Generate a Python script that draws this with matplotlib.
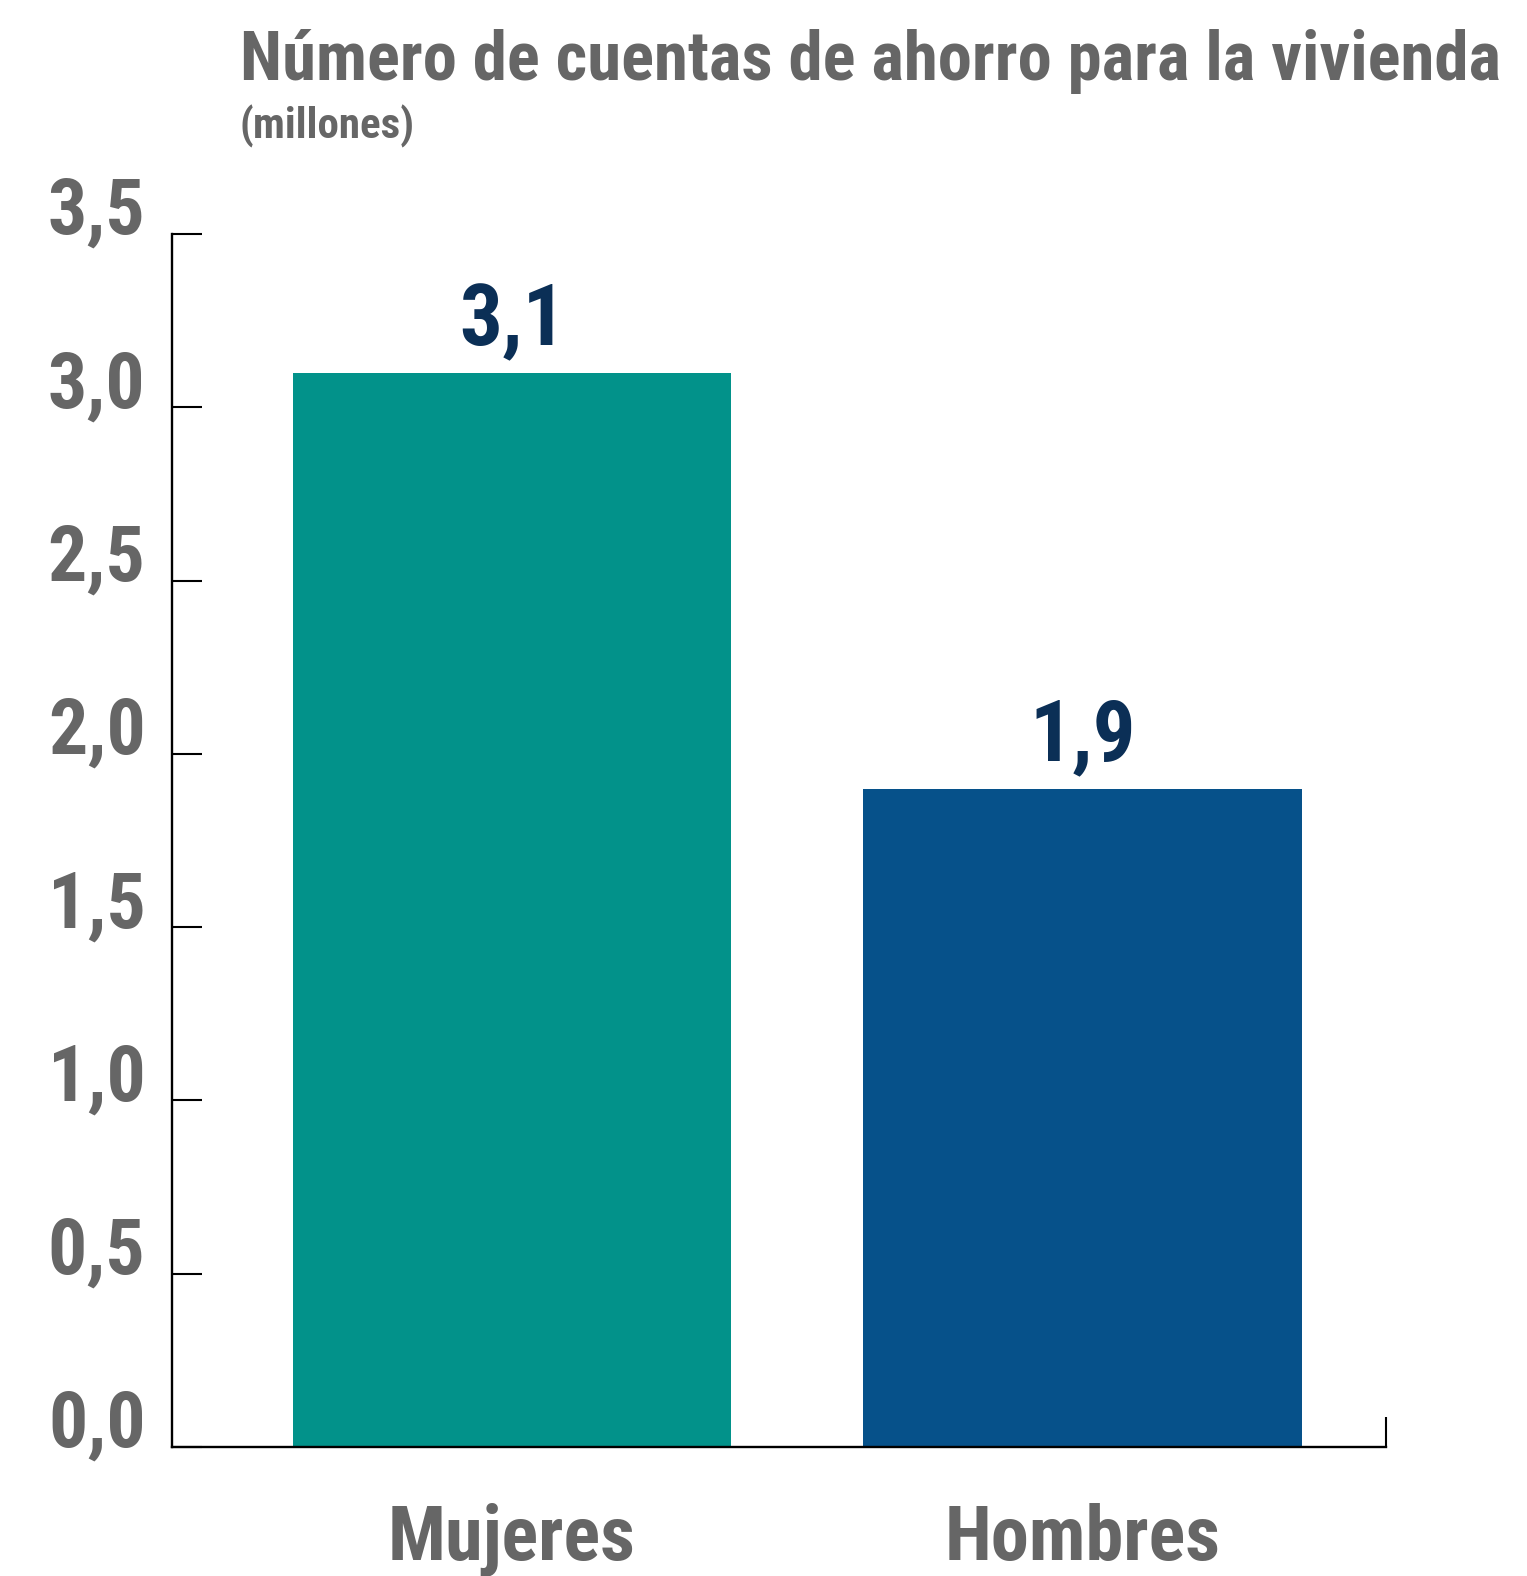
import matplotlib
matplotlib.use("Agg")
import matplotlib.pyplot as plt
from matplotlib.ticker import FixedLocator

categories = ["Mujeres", "Hombres"]
values = [3.1, 1.9]
value_labels = ["3,1", "1,9"]
yticks = [0.0, 0.5, 1.0, 1.5, 2.0, 2.5, 3.0, 3.5]
ytick_labels = ["0,0", "0,5", "1,0", "1,5", "2,0", "2,5", "3,0", "3,5"]
title = "Número de cuentas de ahorro para la vivienda"
subtitle = "(millones)"

bar_colors = ["#02928A", "#06518A"]
grey = "#666666"
navy = "#0B2F56"

FAM = ["Liberation Sans Narrow", "DejaVu Sans Condensed", "Roboto Condensed", "DejaVu Sans"]
plt.rcParams['font.family'] = FAM

fig = plt.figure(figsize=(15.27, 15.76), dpi=100)
W, H = 1527, 1576
left, right, bottom, top = 172 / W, 1386 / W, 1 - 1447 / H, 1 - 234 / H
ax = fig.add_axes([left, bottom, right - left, top - bottom])

x = list(range(len(categories)))
ax.bar(x, values, width=0.768, color=bar_colors)
ax.set_xlim(-0.596, 1.532)
ax.set_ylim(0, 3.5)

for xi, v, lab in zip(x, values, value_labels):
    ax.annotate(lab, (xi, v), xytext=(0, 20), textcoords="offset points",
                ha="center", va="baseline", fontsize=61, fontweight="bold", color=navy)

ax.spines['top'].set_visible(False)
ax.spines['right'].set_visible(False)
for s in ['left', 'bottom']:
    ax.spines[s].set_linewidth(1.7)
    ax.spines[s].set_color("black")

ax.set_yticks(yticks)
ax.set_yticklabels(ytick_labels)
ax.tick_params(axis='y', direction='in', length=21.6, width=1.5, pad=19,
               labelsize=56, labelcolor=grey)
for t in ax.get_yticklabels():
    t.set_fontweight("bold")
    t.set_va("baseline")

ax.set_xticks(x)
ax.set_xticklabels(categories)
ax.tick_params(axis='x', which='major', length=0, pad=40, labelsize=55, labelcolor=grey)
for t in ax.get_xticklabels():
    t.set_fontweight("bold")
ax.xaxis.set_minor_locator(FixedLocator([1.532]))
ax.tick_params(axis='x', which='minor', direction='in', length=21.6, width=1.5)

fig.text(240 / W, 1 - 80 / H, title, fontsize=49.5, fontweight="bold", color=grey,
         ha="left", va="baseline")
fig.text(240 / W, 1 - 138 / H, subtitle, fontsize=31, fontweight="bold", color=grey,
         ha="left", va="baseline")

fig.savefig("out.png", dpi=100)
